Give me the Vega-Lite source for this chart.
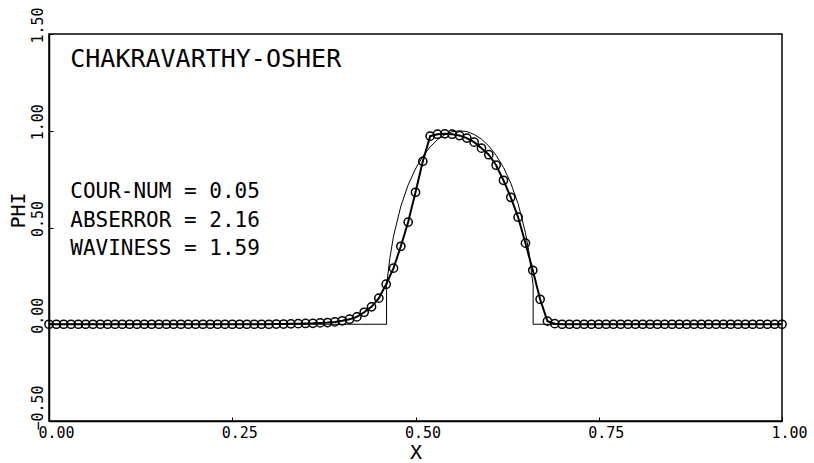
{
  "$schema": "https://vega.github.io/schema/vega-lite/v6.json",
  "width": 733,
  "height": 387,
  "autosize": {"type": "none"},
  "padding": {"left": 49, "top": 34, "right": 32, "bottom": 42},
  "background": "white",
  "config": {
    "view": {"stroke": "black", "strokeWidth": 1.5},
    "font": "DejaVu Sans Mono",
    "axis": {
      "grid": false,
      "domainColor": "black",
      "domainWidth": 1.5,
      "tickColor": "black",
      "tickWidth": 1,
      "labelColor": "black",
      "titleColor": "black",
      "labelFont": "DejaVu Sans Mono",
      "titleFont": "DejaVu Sans Mono",
      "labelFontSize": 15,
      "titleFontSize": 20,
      "titleFontWeight": "normal"
    }
  },
  "datasets": {
    "exact": [
      {"k": 0, "x": 0.0, "phi": 0},
      {"k": 1, "x": 0.4605, "phi": 0},
      {"k": 2, "x": 0.4605, "phi": 0.2},
      {"k": 3, "x": 0.465, "phi": 0.341},
      {"k": 4, "x": 0.47, "phi": 0.455},
      {"k": 5, "x": 0.48, "phi": 0.61},
      {"k": 6, "x": 0.49, "phi": 0.72},
      {"k": 7, "x": 0.5, "phi": 0.803},
      {"k": 8, "x": 0.51, "phi": 0.868},
      {"k": 9, "x": 0.52, "phi": 0.917},
      {"k": 10, "x": 0.53, "phi": 0.954},
      {"k": 11, "x": 0.54, "phi": 0.979},
      {"k": 12, "x": 0.55, "phi": 0.995},
      {"k": 13, "x": 0.5605, "phi": 1.0},
      {"k": 14, "x": 0.57, "phi": 0.996},
      {"k": 15, "x": 0.58, "phi": 0.981},
      {"k": 16, "x": 0.59, "phi": 0.957},
      {"k": 17, "x": 0.6, "phi": 0.921},
      {"k": 18, "x": 0.61, "phi": 0.873},
      {"k": 19, "x": 0.62, "phi": 0.811},
      {"k": 20, "x": 0.63, "phi": 0.729},
      {"k": 21, "x": 0.64, "phi": 0.623},
      {"k": 22, "x": 0.65, "phi": 0.473},
      {"k": 23, "x": 0.655, "phi": 0.367},
      {"k": 24, "x": 0.6605, "phi": 0.2},
      {"k": 25, "x": 0.6605, "phi": 0},
      {"k": 26, "x": 1.0, "phi": 0}
    ],
    "num": [
      {"x": 0.00, "phi": 0}, {"x": 0.01, "phi": 0}, {"x": 0.02, "phi": 0}, {"x": 0.03, "phi": 0},
      {"x": 0.04, "phi": 0}, {"x": 0.05, "phi": 0}, {"x": 0.06, "phi": 0}, {"x": 0.07, "phi": 0},
      {"x": 0.08, "phi": 0}, {"x": 0.09, "phi": 0}, {"x": 0.10, "phi": 0}, {"x": 0.11, "phi": 0},
      {"x": 0.12, "phi": 0}, {"x": 0.13, "phi": 0}, {"x": 0.14, "phi": 0}, {"x": 0.15, "phi": 0},
      {"x": 0.16, "phi": 0}, {"x": 0.17, "phi": 0}, {"x": 0.18, "phi": 0}, {"x": 0.19, "phi": 0},
      {"x": 0.20, "phi": 0}, {"x": 0.21, "phi": 0}, {"x": 0.22, "phi": 0}, {"x": 0.23, "phi": 0},
      {"x": 0.24, "phi": 0}, {"x": 0.25, "phi": 0}, {"x": 0.26, "phi": 0}, {"x": 0.27, "phi": 0},
      {"x": 0.28, "phi": 0}, {"x": 0.29, "phi": 0}, {"x": 0.30, "phi": 0}, {"x": 0.31, "phi": 0.001},
      {"x": 0.32, "phi": 0.001}, {"x": 0.33, "phi": 0.002}, {"x": 0.34, "phi": 0.003}, {"x": 0.35, "phi": 0.004},
      {"x": 0.36, "phi": 0.005}, {"x": 0.37, "phi": 0.007}, {"x": 0.38, "phi": 0.009}, {"x": 0.39, "phi": 0.012},
      {"x": 0.40, "phi": 0.018}, {"x": 0.41, "phi": 0.026}, {"x": 0.42, "phi": 0.038}, {"x": 0.43, "phi": 0.062},
      {"x": 0.44, "phi": 0.090}, {"x": 0.45, "phi": 0.135}, {"x": 0.46, "phi": 0.207}, {"x": 0.47, "phi": 0.290},
      {"x": 0.48, "phi": 0.403}, {"x": 0.49, "phi": 0.528}, {"x": 0.50, "phi": 0.682}, {"x": 0.51, "phi": 0.842},
      {"x": 0.52, "phi": 0.972}, {"x": 0.53, "phi": 0.982}, {"x": 0.54, "phi": 0.984}, {"x": 0.55, "phi": 0.982},
      {"x": 0.56, "phi": 0.975}, {"x": 0.57, "phi": 0.962}, {"x": 0.58, "phi": 0.941}, {"x": 0.59, "phi": 0.910},
      {"x": 0.60, "phi": 0.876}, {"x": 0.61, "phi": 0.822}, {"x": 0.62, "phi": 0.744}, {"x": 0.63, "phi": 0.656},
      {"x": 0.64, "phi": 0.553}, {"x": 0.65, "phi": 0.419}, {"x": 0.66, "phi": 0.279}, {"x": 0.67, "phi": 0.129},
      {"x": 0.68, "phi": 0.016}, {"x": 0.69, "phi": 0.003}, {"x": 0.70, "phi": 0}, {"x": 0.71, "phi": 0},
      {"x": 0.72, "phi": 0}, {"x": 0.73, "phi": 0}, {"x": 0.74, "phi": 0}, {"x": 0.75, "phi": 0},
      {"x": 0.76, "phi": 0}, {"x": 0.77, "phi": 0}, {"x": 0.78, "phi": 0}, {"x": 0.79, "phi": 0},
      {"x": 0.80, "phi": 0}, {"x": 0.81, "phi": 0}, {"x": 0.82, "phi": 0}, {"x": 0.83, "phi": 0},
      {"x": 0.84, "phi": 0}, {"x": 0.85, "phi": 0}, {"x": 0.86, "phi": 0}, {"x": 0.87, "phi": 0},
      {"x": 0.88, "phi": 0}, {"x": 0.89, "phi": 0}, {"x": 0.90, "phi": 0}, {"x": 0.91, "phi": 0},
      {"x": 0.92, "phi": 0}, {"x": 0.93, "phi": 0}, {"x": 0.94, "phi": 0}, {"x": 0.95, "phi": 0},
      {"x": 0.96, "phi": 0}, {"x": 0.97, "phi": 0}, {"x": 0.98, "phi": 0}, {"x": 0.99, "phi": 0},
      {"x": 1.00, "phi": 0}
    ],
    "notes": [
      {"x": 0.029, "phi": 1.37, "label": "CHAKRAVARTHY-OSHER", "kind": "title"},
      {"x": 0.029, "phi": 0.682, "label": "COUR-NUM = 0.05", "kind": "stat"},
      {"x": 0.029, "phi": 0.532, "label": "ABSERROR = 2.16", "kind": "stat"},
      {"x": 0.029, "phi": 0.388, "label": "WAVINESS = 1.59", "kind": "stat"}
    ]
  },
  "encoding": {
    "x": {
      "field": "x", "type": "quantitative",
      "scale": {"domain": [0, 1], "nice": false, "zero": false},
      "axis": {
        "values": [0, 0.25, 0.5, 0.75, 1],
        "format": ".2f",
        "title": "X",
        "labelAlign": "left",
        "labelOffset": -11,
        "tickSize": -4,
        "labelPadding": 8,
        "titlePadding": 2
      }
    },
    "y": {
      "field": "phi", "type": "quantitative",
      "scale": {"domain": [-0.5, 1.5], "nice": false, "zero": false},
      "axis": {
        "values": [-0.5, 0, 0.5, 1, 1.5],
        "format": ".2f",
        "title": "PHI",
        "labelAngle": 270,
        "labelAlign": "left",
        "labelBaseline": "bottom",
        "labelOffset": 9,
        "labelPadding": 8,
        "tickSize": -4,
        "titleAngle": 270,
        "titleAlign": "left",
        "titleBaseline": "bottom",
        "titleX": -21,
        "titleY": 194
      }
    }
  },
  "layer": [
    {
      "data": {"name": "exact"},
      "mark": {"type": "line", "color": "black", "strokeWidth": 1},
      "encoding": {"order": {"field": "k", "type": "quantitative"}}
    },
    {
      "data": {"name": "num"},
      "mark": {
        "type": "line", "color": "black", "strokeWidth": 2,
        "point": {"filled": false, "fill": "white", "fillOpacity": 0, "stroke": "black", "strokeWidth": 1.5, "size": 68, "opacity": 1}
      }
    },
    {
      "data": {"name": "notes"},
      "transform": [{"filter": "datum.kind == 'title'"}],
      "mark": {"type": "text", "align": "left", "baseline": "middle", "font": "DejaVu Sans Mono", "fontSize": 25, "color": "black"},
      "encoding": {"text": {"field": "label"}}
    },
    {
      "data": {"name": "notes"},
      "transform": [{"filter": "datum.kind == 'stat'"}],
      "mark": {"type": "text", "align": "left", "baseline": "middle", "font": "DejaVu Sans Mono", "fontSize": 21, "color": "black"},
      "encoding": {"text": {"field": "label"}}
    }
  ]
}
